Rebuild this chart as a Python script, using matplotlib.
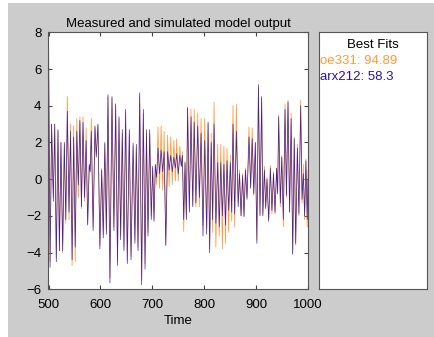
import matplotlib
matplotlib.use("Agg")
import matplotlib.pyplot as plt
from matplotlib.patches import Rectangle

plt.rcParams['font.family'] = ['Liberation Sans', 'DejaVu Sans']

# Extremum times of the oscillating outputs
time = [500.3, 503, 506, 509.3, 512, 515, 518.3, 521, 524, 527.3, 530.5, 533.3, 536.3, 539.5,
        542.5, 545.5, 548.5, 551.5, 554.5, 557.5, 560.5, 563.5, 566.5, 569.5, 572.5, 575.5,
        578.5, 580.3, 582.5, 586, 589.5, 592, 595.3, 599, 602.5, 605.5, 608.5, 611.5, 614.6,
        618.4, 622.3, 626, 629.4, 633, 635.8, 639, 642.2, 645.4, 648.6, 651.8, 655.7, 659,
        663, 666.5, 669.2, 672.5, 675.7, 679.5, 682.7, 686, 688.7, 691.7, 695, 698, 700.7,
        703.3, 705.8, 708.4, 711, 714, 717, 720, 722.8, 726, 729.5, 732.5, 735.5, 738.5,
        741.5, 744.5, 747, 750, 753, 756, 758, 760.5, 763, 765.6, 768, 771.4, 774.6, 778,
        780.7, 784, 787.5, 790.7, 794, 797.7, 801, 804.8, 807.5, 810.5, 813.5, 816.3, 819,
        822.5, 826, 829, 832, 835, 838, 841, 844, 847.2, 850.4, 853, 855.5, 858.7, 862,
        865.5, 868, 871, 874, 876.7, 879.5, 882.5, 886.3, 889.5, 892.5, 895.5, 898.5, 901.5,
        904.5, 907.5, 910.7, 913, 916, 918.5, 921, 924.3, 927.5, 930.5, 933.5, 936.5, 939.5,
        941.5, 943.5, 946.7, 949.5, 952.5, 955.7, 958.5, 961.5, 964.5, 967.5, 970.5, 973.5,
        976.3, 979.5, 982.5, 985.9, 988.5, 991, 993.5, 996, 998.5, 1000]

arx212 = [7.0, -4.8, 3.0, -1.2, 3.0, -4.5, 2.7, -3.9, 2.0, -3.9, 2.0, -2.2, 3.7, -1.8,
          2.6, -4.4, 2.3, -3.7, 2.6, -0.3, 3.2, -1.5, 3.1, -1.0, 2.1, -2.5,
          0.8, 0.4, 2.6, -2.8, 2.9, 1.2, 3.0, -3.8, 0.5, -3.2, 2.0, -3.0, 4.6,
          -5.65, 4.5, -2.8, 4.1, -4.7, 3.4, -3.3, 2.7, -3.9, 3.8, -4.6, 2.7, -4.4,
          1.95, -3.5, 1.9, -3.9, 4.7, -5.75, 3.8, -4.9, 2.7, -3.1, 2.7, -2.2, 0.7,
          -2.3, 0.8, 0.1, 1.7, 0.3, 1.6, 0.4, 1.5, -3.6, 1.5, 0.5, 1.3, 0.4,
          1.2, 0.6, 1.4, 0.3, 1.3, 0.7, 1.3, -2.2, 0.9, -2.2, 3.9, -1.8, 3.4, -1.5,
          3.1, -1.3, 2.9, -1.0, 2.5, -3.1, 2.1, -3.0, 3.1, -4.0, 2.0, -2.2, 3.0,
          -2.4, 0.9, -2.6, 0.9, -2.0, 0.8, -2.5, 1.0, -1.7, 0.9, -1.8, 3.0, -1.9, 2.6,
          -1.5, 0.3, -2.0, 0.2, -2.05, 0.5, -1.1, 2.3, -0.5, 2.2, -0.8, 2.0, -3.5,
          5.15, -2.0, 4.5, -2.0, 0.5, -1.6, 0.0, -2.3, 0.6, -1.7, 0.3, -1.8, 0.6,
          -0.8, 3.4, -1.3, 1.2, -2.2, 3.8, -0.9, 4.2, -1.8, 3.3, -4.1, 2.2,
          -3.5, 1.7, -1.9, 4.0, -1.1, 0.3, -2.0, 1.0, -2.2, 0.0]

oe331 = [6.2, -4.5, 3.0, -1.0, 3.0, -4.3, 2.6, -3.9, 2.0, -4.0, 1.9, -2.4, 4.5, -2.2,
         3.0, -4.7, 2.9, -4.5, 3.3, -1.0, 3.4, -1.6, 3.4, -1.2, 2.8, -2.4,
         0.8, 0.5, 3.3, -2.6, 2.8, 1.3, 2.9, -3.6, 0.6, -3.0, 1.9, -2.8, 4.5,
         -5.4, 4.4, -2.6, 4.0, -4.5, 3.3, -3.1, 2.5, -3.7, 3.6, -4.4, 2.5, -4.2,
         1.8, -3.3, 1.7, -3.7, 4.5, -5.5, 3.6, -4.6, 2.5, -2.9, 2.5, -2.0, 0.6,
         -2.2, 0.8, -0.3, 2.85, -0.5, 2.9, -0.6, 2.6, -3.6, 2.4, -0.4, 2.3, -0.3,
         2.1, -0.1, 2.2, -0.1, 1.8, 0.7, 1.5, -2.85, 0.95, -2.1, 3.9, -1.6, 3.8, -1.4,
         3.8, -1.5, 3.6, -1.5, 3.3, -2.5, 3.3, -2.7, 3.0, -3.8, 2.5, -2.9, 4.2,
         -3.7, 1.9, -3.1, 1.9, -3.8, 1.8, -3.5, 1.7, -2.9, 1.3, -2.3, 4.0, -2.6, 4.1,
         -1.3, 0.5, -2.0, 0.3, -2.0, 0.6, -1.0, 2.85, -0.4, 2.8, -0.9, 2.0, -3.3,
         5.0, -1.9, 4.4, -1.9, 0.7, -1.5, 0.1, -2.2, 0.75, -1.9, 0.4, -1.9, 0.6,
         -0.7, 3.5, -1.5, 1.3, -2.6, 4.1, -1.0, 4.3, -1.8, 3.6, -4.0, 2.3,
         -3.6, 1.9, -2.0, 4.3, -1.3, 0.8, -2.2, 1.1, -2.6, 0.5]

fit_labels = ["oe331: 94.89", "arx212: 58.3"]
title_text = "Measured and simulated model output"
legend_title = "Best Fits"
xticks = [500, 600, 700, 800, 900, 1000]
yticks = [-6, -4, -2, 0, 2, 4, 6, 8]

c_oe = '#ff9a3c'
c_arx = '#2a14a6'
W, H = 435, 337

fig = plt.figure(figsize=(W / 100, H / 100), dpi=100, facecolor='white')
bg = Rectangle((8 / W, 0), 1 - 8 / W, 1 - 3 / H, transform=fig.transFigure,
               facecolor='#cccccc', edgecolor='none', zorder=-10)
fig.add_artist(bg)

ax = fig.add_axes([48.5 / W, 1 - 289.3 / H, (308 - 48.5) / W, (289.3 - 32.3) / H])
ax.set_facecolor('white')
ax.plot(time, oe331, color=c_oe, lw=0.55)
ax.plot(time, arx212, color=c_arx, lw=0.5, alpha=0.9)
ax.set_xlim(500, 1000)
ax.set_ylim(-6, 8)
ax.set_xticks(xticks)
ax.set_yticks(yticks)
ax.tick_params(direction='in', top=True, right=True, labelsize=9.5, length=3,
               color='#444444')
ax.tick_params(axis='y', pad=5)
ax.tick_params(axis='x', pad=7)
for s in ax.spines.values():
    s.set_color('#555555')
    s.set_linewidth(0.8)
ax.set_title(title_text, fontsize=9.5, pad=4)
ax.set_xlabel("Time", fontsize=9.5, labelpad=3)

lax = fig.add_axes([319.3 / W, 1 - 289.3 / H, (427.3 - 319.3) / W, (289.3 - 32.3) / H])
lax.set_facecolor('white')
lax.set_xticks([])
lax.set_yticks([])
for s in lax.spines.values():
    s.set_color('#555555')
    s.set_linewidth(0.8)
lax.text(0.5, 1 - (45 - 32.3) / 257, legend_title, ha='center', va='center', fontsize=9.5,
         transform=lax.transAxes)
lax.text(0.005, 1 - (61.5 - 32.3) / 257, fit_labels[0], ha='left', va='center', fontsize=9.5,
         color=c_oe, transform=lax.transAxes)
lax.text(0.005, 1 - (77.5 - 32.3) / 257, fit_labels[1], ha='left', va='center', fontsize=9.5,
         color=c_arx, transform=lax.transAxes)

fig.savefig("out.png", dpi=100, facecolor='white')
